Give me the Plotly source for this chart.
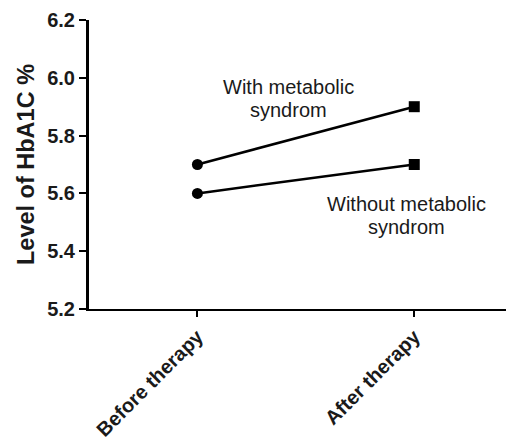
import plotly.graph_objects as go

categories = ["Before therapy", "After therapy"]
with_ms = [5.7, 5.9]
without_ms = [5.6, 5.7]
y_ticks = [5.2, 5.4, 5.6, 5.8, 6.0, 6.2]

fig = go.Figure()
for vals in (with_ms, without_ms):
    fig.add_trace(go.Scatter(
        x=[0, 1], y=vals, mode="lines",
        line=dict(color="black", width=2.5), showlegend=False))
    fig.add_trace(go.Scatter(
        x=[0], y=[vals[0]], mode="markers",
        marker=dict(symbol="circle", size=11, color="black"), showlegend=False))
    fig.add_trace(go.Scatter(
        x=[1], y=[vals[1]], mode="markers",
        marker=dict(symbol="square", size=11, color="black"), showlegend=False))

font = "Liberation Sans, Arial, sans-serif"
txt = "#1a1a1a"
labels = [
    (0.418, 5.968, "With metabolic"),
    (0.418, 5.890, "syndrom"),
    (0.963, 5.563, "Without metabolic"),
    (0.963, 5.485, "syndrom"),
]
for x, y, t in labels:
    fig.add_annotation(x=x, y=y, text=t, showarrow=False,
                       font=dict(family=font, size=20, color=txt),
                       xanchor="center", yanchor="middle")

fig.update_layout(
    width=514, height=441,
    margin=dict(l=81, r=8, t=12, b=140),
    paper_bgcolor="white", plot_bgcolor="white",
    font=dict(family=font, color=txt),
    xaxis=dict(
        range=[-0.5, 1.46], tickmode="array", tickvals=[0, 1], ticktext=categories,
        tickangle=-45, showgrid=False, zeroline=False, automargin=False,
        showline=True, linecolor="black", linewidth=2,
        ticks="outside", ticklen=6, tickwidth=2, tickcolor="black",
        tickfont=dict(family=font, size=20, color=txt, weight="bold"),
    ),
    yaxis=dict(
        range=[5.2, 6.2], tickmode="array", tickvals=y_ticks,
        ticktext=[f"{v:.1f}" for v in y_ticks],
        showgrid=False, zeroline=False, automargin=False,
        showline=True, linecolor="black", linewidth=3,
        ticks="outside", ticklen=7, tickwidth=2, tickcolor="black",
        tickfont=dict(family=font, size=20, color=txt, weight="bold"),
        title=dict(text="Level of HbA1C %", font=dict(family=font, size=23.5, color=txt, weight="bold"), standoff=6),
    ),
)

fig.write_html("out.html")
